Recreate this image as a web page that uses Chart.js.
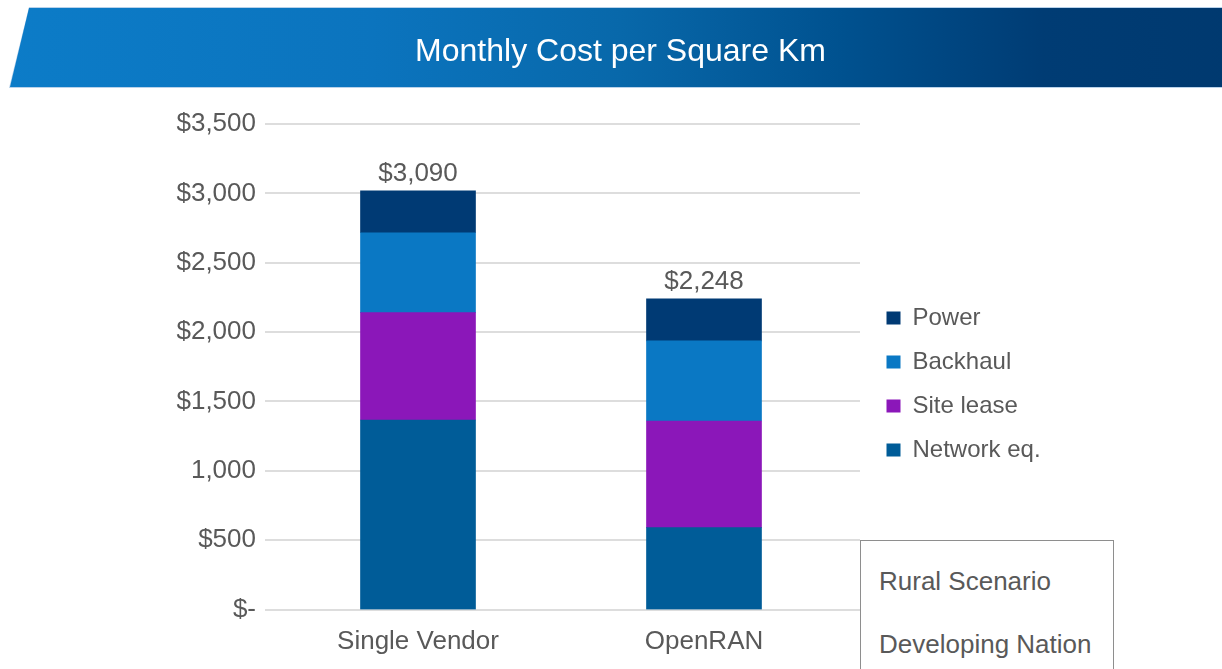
<!DOCTYPE html>
<html>
<head>
<meta charset="utf-8">
<script src="https://cdn.jsdelivr.net/npm/chart.js@4.4.1/dist/chart.umd.min.js"></script>
<style>
  html, body { margin: 0; padding: 0; background: #ffffff; }
  body { width: 1222px; height: 669px; overflow: hidden; position: relative; font-family: 'Liberation Sans', Arial, sans-serif; }
  #c { position: absolute; left: 0; top: 0; }
  .bannerEdge { position: absolute; left: 0; top: 7px; width: 1242px; height: 81px; background: #b9d2ea;
    clip-path: polygon(29px 0, 1242px 0, 1222px 81px, 9px 81px); }
  .banner { position: absolute; left: 0; top: 8px; width: 1242px; height: 79px;
    background: linear-gradient(to right, #0c7cc8 0%, #0b74be 30%, #0868aa 50%, #00518f 68%, #003c74 84%, #00396f 100%);
    clip-path: polygon(29px 0, 1242px 0, 1222px 79px, 10px 79px); }
  .title { position: absolute; left: 0; top: 34px; width: 1241px; text-align: center; color: #ffffff;
    font-size: 32px; line-height: 32px; white-space: nowrap; }
  .note { position: absolute; left: 860px; top: 540px; width: 254px; height: 150px; box-sizing: border-box;
    border: 1px solid #8e8e8e; background: #ffffff; }
  .note span { position: absolute; left: 18px; font-size: 26px; line-height: 26px; color: #595959; white-space: nowrap; }
</style>
</head>
<body>
<canvas id="c" width="1222" height="669"></canvas>
<div class="bannerEdge"></div>
<div class="banner"></div>
<div class="title">Monthly Cost per Square Km</div>
<div class="note"><span style="top:27px">Rural Scenario</span><span style="top:90px">Developing Nation</span></div>
<script>
const categories = ['Single Vendor', 'OpenRAN'];
const seriesNames = ['Network eq.', 'Site lease', 'Backhaul', 'Power'];
const networkEq = [1366, 590];
const siteLease = [774, 769];
const backhaul = [576, 577];
const power = [303, 303];
const totalLabels = ['$3,090', '$2,248'];
const yTickLabels = ['$-', '$500', '1,000', '$1,500', '$2,000', '$2,500', '$3,000', '$3,500'];
const seriesColors = ['#005c98', '#8b17b9', '#0a78c4', '#003a74'];

const TEXT = '#595959';
Chart.defaults.font.family = "'Liberation Sans', Arial, sans-serif";
Chart.defaults.color = TEXT;

const gridPlugin = {
  id: 'gridPlugin',
  beforeDatasetsDraw(chart) {
    const { ctx, chartArea } = chart;
    const y = chart.scales.y;
    ctx.save();
    ctx.strokeStyle = '#d2d2d2';
    ctx.lineWidth = 1.4;
    y.ticks.forEach(t => {
      const py = Math.round(y.getPixelForValue(t.value));
      ctx.beginPath();
      ctx.moveTo(chartArea.left - 10, py);
      ctx.lineTo(chartArea.right + 13, py);
      ctx.stroke();
    });
    ctx.restore();
  }
};

const totalsPlugin = {
  id: 'totalsPlugin',
  afterDatasetsDraw(chart) {
    const { ctx } = chart;
    ctx.save();
    ctx.fillStyle = TEXT;
    ctx.font = "26px 'Liberation Sans', Arial, sans-serif";
    ctx.textAlign = 'center';
    ctx.textBaseline = 'alphabetic';
    categories.forEach((c, i) => {
      let top = Infinity, x = 0;
      chart.data.datasets.forEach((d, di) => {
        const el = chart.getDatasetMeta(di).data[i];
        if (el && el.y < top) { top = el.y; x = el.x; }
      });
      ctx.fillText(totalLabels[i], x, top - 10);
    });
    ctx.restore();
  }
};

const seriesData = [networkEq, siteLease, backhaul, power];

new Chart(document.getElementById('c'), {
  type: 'bar',
  data: {
    labels: categories,
    datasets: seriesNames.map((n, i) => ({
      label: n,
      data: seriesData[i],
      backgroundColor: seriesColors[i],
      borderWidth: 0,
      barThickness: 115
    }))
  },
  options: {
    responsive: false,
    animation: false,
    devicePixelRatio: 1,
    layout: { padding: { left: 0, right: 182.5, top: 110.5, bottom: 11.5 } },
    plugins: {
      title: {
        display: true,
        text: '',
        position: 'top',
        fullSize: false,
        font: { size: 10, lineHeight: 1 },
        padding: { top: 0, bottom: 3.5 }
      },
      legend: {
        position: 'right',
        reverse: true,
        maxWidth: 173,
        labels: {
          boxWidth: 14,
          boxHeight: 13,
          padding: 20,
          color: TEXT,
          font: { size: 24 }
        }
      },
      tooltip: { enabled: false }
    },
    scales: {
      x: {
        stacked: true,
        grid: { display: false, drawTicks: false },
        border: { display: false },
        ticks: { padding: 17, color: TEXT, font: { size: 26 }, maxRotation: 0, autoSkip: false },
        afterFit: s => { s.height = 48; }
      },
      y: {
        stacked: true,
        min: 0,
        max: 3500,
        grid: { display: false, drawTicks: false },
        border: { display: false },
        ticks: {
          stepSize: 500,
          padding: 19,
          color: TEXT,
          font: { size: 26 },
          callback: (v) => yTickLabels[Math.round(v / 500)]
        },
        afterFit: s => { s.width = 275; }
      },
      y2: {
        position: 'right',
        grid: { display: false, drawTicks: false },
        border: { display: false },
        ticks: { display: false },
        afterFit: s => { s.width = 19.5; }
      }
    }
  },
  plugins: [gridPlugin, totalsPlugin]
});
</script>
</body>
</html>
